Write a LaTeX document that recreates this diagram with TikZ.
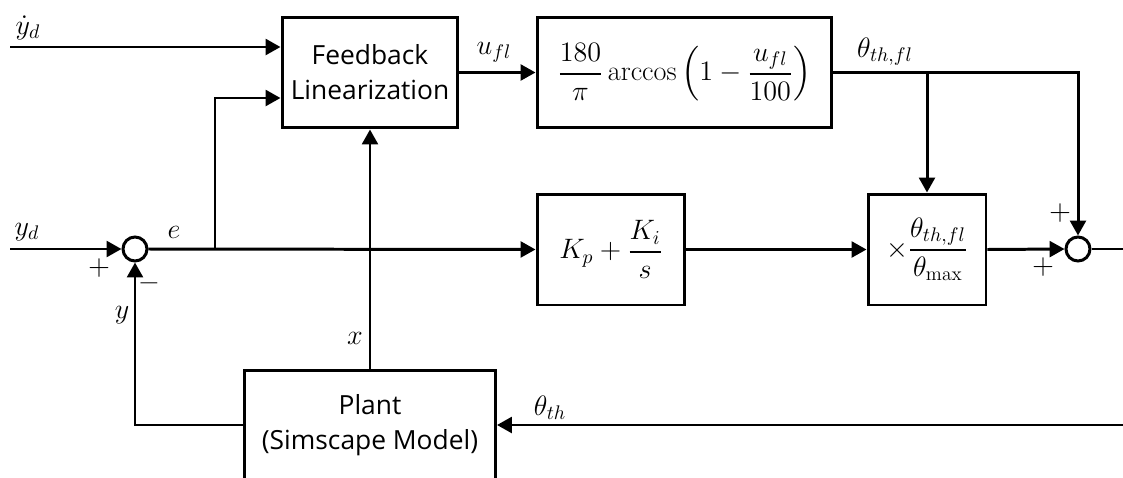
\documentclass[tikz,border=0pt]{standalone}
\usepackage{fix-cm}
\usepackage{amsmath}
\usepackage{fontspec}
\setsansfont{Open Sans}
\usepackage{tikz}
\usetikzlibrary{arrows.meta,calc}

\begin{document}
\begin{tikzpicture}[x=0.02cm, y=-0.02cm, >={Triangle[length=8.5pt,width=9pt]}, line width=1.7pt,
  every node/.style={font=\fontsize{16}{20}\selectfont},
  sans/.style={font=\sffamily\fontsize{15}{20}\selectfont},
  sign/.style={font=\fontsize{17}{20}\selectfont},
  block/.style={draw, line width=1.7pt, minimum height=2.22cm, inner sep=0pt, align=center},
  sumnode/.style={draw, circle, minimum size=0.48cm, inner sep=0pt, line width=1.7pt}]

\useasboundingbox (0,0) rectangle (1123,477);

% blocks
\node[block, sans, minimum width=3.52cm] (fl) at (370,72.5) {Feedback\\Linearization};
\node[block, minimum width=5.9cm] (acos) at (684.5,72.5) {$\dfrac{180}{\pi}\arccos\left(1-\dfrac{u_{fl}}{100}\right)$};
\node[block, minimum width=2.96cm] (pi) at (611,249.5) {$K_p+\dfrac{K_i}{s}$};
\node[block, minimum width=2.36cm] (gain) at (927,249.5) {$\times\dfrac{\theta_{th,fl}}{\theta_{\max}}$};
\node[block, sans, minimum width=5.02cm, minimum height=2.2cm] (plant) at (370,425) {Plant\\(Simscape Model)};

\node[sumnode] (s1) at (135,249) {};
\node[sumnode] (s2) at (1078,249) {};

\coordinate (ydot) at (10,47);
\coordinate (yd) at (10,249);
\coordinate (br) at (215,249);
\coordinate (out) at (1123,249);
\coordinate (thin) at (1123,425);

% signals
\draw[->] (ydot) -- (ydot -| fl.west);
\draw[->] (yd) -- (s1.west);
\draw[->] (s1.east) -- (pi.west);
\draw[->] (br) |- ($(fl.west)+(0,25.5)$);
\draw[->] (fl.east) -- (acos.west);
\draw[->] (acos.east) -| (s2.north);
\draw[->] (acos.east -| gain.north) -- (gain.north);
\draw[->] (pi.east) -- (gain.west);
\draw[->] (gain.east) -- (s2.west);
\draw (s2.east) -- (out);
\draw[->] (thin) -- (plant.east);
\draw[->] (plant.west) -| (s1.south);
\draw[->] (plant.north) -- (plant.north |- fl.south);

% labels
\node (lydot) at (28,28) {$\dot{y}_d$};
\node (lyd) at (27,232) {$y_d$};
\node (le) at (174,232) {$e$};
\node (ly) at (122,315) {$y$};
\node (lx) at (355,338) {$x$};
\node (lufl) at (494,52) {$u_{fl}$};
\node (lthfl) at (885,52) {$\theta_{th,fl}$};
\node (lth) at (550,408) {$\theta_{th}$};
\node[sign] (p1) at (99,268) {$+$};
\node[sign] (m1) at (149,287) {\textbf{–}};
\node[sign] (p2) at (1060,213) {$+$};
\node[sign] (p3) at (1043,267) {$+$};

\end{tikzpicture}
\end{document}
